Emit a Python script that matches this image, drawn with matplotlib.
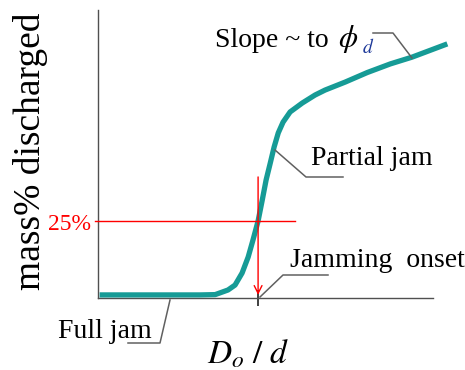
import matplotlib
matplotlib.use('Agg')
import matplotlib.pyplot as plt
from matplotlib.lines import Line2D

plt.rcParams['font.family'] = ['Liberation Serif', 'DejaVu Serif']
plt.rcParams['mathtext.fontset'] = 'stix'

# discharge curve (x = Do/d, y = mass% discharged)
ratio = [0.05, 1.63, 3.19, 3.66, 4.06, 4.28, 4.50, 4.69, 4.84, 5.0,
         5.13, 5.25, 5.38, 5.50, 5.63, 5.78, 6.0, 6.38, 6.78, 7.09,
         7.72, 8.41, 9.13, 9.81, 10.91]
mass_pct = [1.0, 1.0, 1.0, 1.1, 2.6, 4.2, 8.1, 13.3, 18.8, 25.0,
            31.8, 38.3, 43.8, 49.0, 53.6, 57.1, 60.4, 63.3, 65.9, 67.5,
            70.1, 73.2, 76.0, 78.2, 82.5]
onset_ratio = 5.0
level_pct = 25
level_label = '25%'

W, H = 465, 370


def px(x, y):
    # figure pixel (from top-left) -> figure fraction
    return x / W, 1 - y / H


fig = plt.figure(figsize=(W / 100, H / 100), dpi=100)
ax = fig.add_axes([98 / W, (H - 298) / H, (447 - 98) / W, 288 / H])
ax.set_xlim(0, 10.9)
ax.set_ylim(0, 93.5)
for s in ['top', 'right']:
    ax.spines[s].set_visible(False)
for s in ['left', 'bottom']:
    ax.spines[s].set_color('#505050')
    ax.spines[s].set_linewidth(1.0)
ax.spines['bottom'].set_bounds(0, (433 - 98) / 32)
ax.set_yticks([])
ax.set_xticks([onset_ratio])
ax.set_xticklabels([])
ax.tick_params(axis='x', direction='inout', length=11, width=1.2, color='#202020')

ax.plot(ratio, mass_pct, color='#169B96', lw=3.8, solid_capstyle='butt',
        solid_joinstyle='round', clip_on=False, zorder=3)

# 25 % guide lines
ax.plot([-0.1, 6.16], [level_pct, level_pct], color='red', lw=1.0, clip_on=False, zorder=4)
ax.annotate('', xy=(onset_ratio, 1.0), xytext=(onset_ratio, 39.3),
            arrowprops=dict(arrowstyle='->', color='red', lw=1.0,
                            mutation_scale=14, shrinkA=0, shrinkB=0), zorder=4)
fig.text(*px(48, 230), level_label, color='red', fontsize=17, va='baseline', ha='left')

# axis labels
fig.text(*px(31, 151), 'mass% discharged', rotation=90, fontsize=27,
         ha='center', va='center')
fig.text(*px(207, 364), r'$D_o\ /\ d$', fontsize=24, ha='left', va='baseline')

# callouts
fs = 20
grey = '#606060'
fig.text(*px(215, 47), 'Slope ~ to', fontsize=fs, va='baseline')
fig.text(*px(338, 47), r'$\phi$', fontsize=fs + 2, va='baseline')
fig.text(*px(362, 53), r'$d$', fontsize=14, color='#1F3A9A', va='baseline')
fig.text(*px(311, 165), 'Partial jam', fontsize=fs, va='baseline')
fig.text(*px(290, 267), 'Jamming  onset', fontsize=fs, va='baseline')
fig.text(*px(58, 338), 'Full jam', fontsize=fs, va='baseline')

callouts = [
    [(373, 33), (393, 33), (412, 58)],
    [(275, 150), (306, 177), (343, 177)],
    [(260, 297), (283, 275), (328, 275)],
    [(170, 300), (160, 343), (128, 343)],
]
for pts in callouts:
    xs, ys = zip(*[px(*p) for p in pts])
    fig.add_artist(Line2D(xs, ys, color=grey, lw=1.1, transform=fig.transFigure))

fig.savefig('out.png', dpi=100)
